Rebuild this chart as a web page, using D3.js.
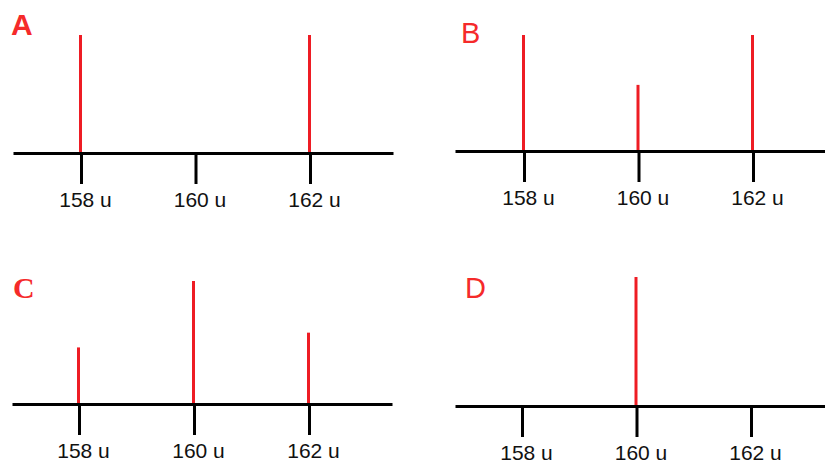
<!DOCTYPE html>
<html>
<head>
<meta charset="utf-8">
<script src="https://cdn.jsdelivr.net/npm/d3@7"></script>
<style>
  html, body { margin: 0; padding: 0; background: #ffffff; }
  svg { display: block; }
</style>
</head>
<body>
<svg id="chart" width="825" height="463"></svg>
<script>
// ---- data ----
const masses = [158, 160, 162];
const tickLabels = ["158 u", "160 u", "162 u"];
const panelLetters = ["A", "B", "C", "D"];
const intensityA = [100, 0, 100];
const intensityB = [100, 57, 100];
const intensityC = [46, 100, 58];
const intensityD = [0, 100, 0];

// ---- layout (pixels) ----
const panels = [
  { letter: panelLetters[0], values: intensityA, left: 13, right: 393, t0: 81, t1: 310, base: 153, maxH: 118,
    lx: 11, ly: 35, font: "'Liberation Sans', Arial, sans-serif", weight: "bold", size: 30 },
  { letter: panelLetters[1], values: intensityB, left: 455, right: 826, t0: 524, t1: 753, base: 151, maxH: 116,
    lx: 461, ly: 43, font: "'Liberation Sans', Arial, sans-serif", weight: "normal", size: 29 },
  { letter: panelLetters[2], values: intensityC, left: 12, right: 392, t0: 79, t1: 309, base: 404, maxH: 123,
    lx: 13, ly: 298, font: "'Liberation Serif', 'Times New Roman', serif", weight: "bold", size: 30 },
  { letter: panelLetters[3], values: intensityD, left: 455, right: 826, t0: 522, t1: 751, base: 406, maxH: 129,
    lx: 465, ly: 298, font: "'Liberation Sans', Arial, sans-serif", weight: "normal", size: 29 }
];

const svg = d3.select("#chart");
const red = "#ee1c24";

panels.forEach(p => {
  const g = svg.append("g");
  // scale anchored on tick positions, extended to axis line ends
  const base = d3.scaleLinear().domain([masses[0], masses[2]]).range([p.t0, p.t1]);
  const x = d3.scaleLinear().domain([base.invert(p.left), base.invert(p.right)]).range([p.left, p.right]);
  const y = d3.scaleLinear().domain([0, 100]).range([p.base, p.base - p.maxH]);

  // spectral lines
  g.selectAll("line.peak")
    .data(masses.map((m, i) => ({ m, v: p.values[i] })).filter(d => d.v > 0))
    .join("line")
    .attr("class", "peak")
    .attr("x1", d => x(d.m) - 0.5).attr("x2", d => x(d.m) - 0.5)
    .attr("y1", y(0)).attr("y2", d => y(d.v))
    .attr("stroke", red).attr("stroke-width", 3);

  // axis
  const axis = d3.axisBottom(x)
    .tickValues(masses)
    .tickFormat((d, i) => tickLabels[i])
    .tickSizeInner(31)
    .tickSizeOuter(0)
    .tickPadding(8);
  const ag = g.append("g").attr("transform", `translate(0,${p.base})`).call(axis);
  ag.select(".domain").attr("stroke", "#000").attr("stroke-width", 3);
  ag.selectAll(".tick line").attr("stroke", "#000").attr("stroke-width", 3);
  ag.selectAll(".tick text")
    .attr("fill", "#111")
    .attr("dx", 4)
    .style("font-family", "'Liberation Sans', Arial, sans-serif")
    .style("font-size", "21px");

  // panel letter
  g.append("text")
    .attr("x", p.lx).attr("y", p.ly)
    .attr("fill", "#f52a2a")
    .style("font-family", p.font)
    .style("font-weight", p.weight)
    .style("font-size", p.size + "px")
    .text(p.letter);
});
</script>
</body>
</html>
